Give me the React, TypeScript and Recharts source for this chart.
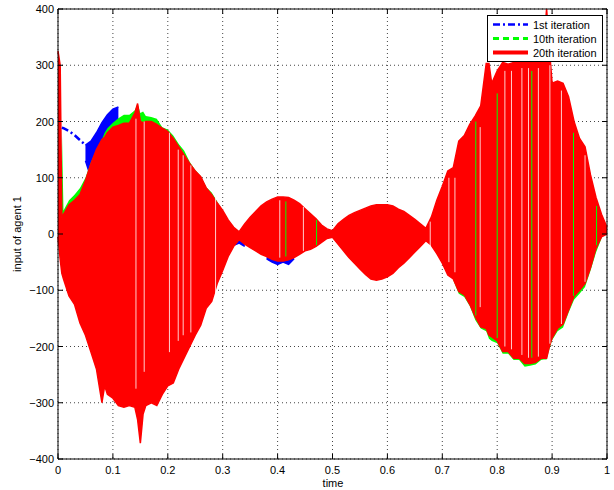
import React from 'react';
import { ComposedChart, Area, Line, XAxis, YAxis, CartesianGrid, ReferenceLine } from 'recharts';

const time = [
  0, 0.004, 0.007, 0.01, 0.02, 0.03, 0.04, 0.05, 0.06, 0.07,
  0.08, 0.085, 0.09, 0.1, 0.11, 0.12, 0.13, 0.14, 0.145, 0.15,
  0.155, 0.16, 0.17, 0.18, 0.19, 0.2, 0.21, 0.22, 0.23, 0.24,
  0.25, 0.26, 0.27, 0.28, 0.29, 0.3, 0.31, 0.32, 0.33, 0.34,
  0.35, 0.36, 0.37, 0.38, 0.39, 0.4, 0.41, 0.42, 0.43, 0.44,
  0.45, 0.46, 0.47, 0.48, 0.49, 0.5, 0.51, 0.52, 0.53, 0.54,
  0.55, 0.56, 0.57, 0.58, 0.59, 0.6, 0.61, 0.62, 0.63, 0.64,
  0.65, 0.66, 0.67, 0.68, 0.69, 0.7, 0.71, 0.72, 0.73, 0.74,
  0.75, 0.76, 0.77, 0.78, 0.785, 0.79, 0.8, 0.81, 0.82, 0.83,
  0.84, 0.85, 0.86, 0.87, 0.88, 0.885, 0.89, 0.895, 0.9, 0.91,
  0.92, 0.93, 0.94, 0.95, 0.96, 0.97, 0.98, 0.99, 1.0,
];

// 20th iteration envelope
const redHigh = [
  325, 300, 28, 35, 52, 60, 70, 95, 125, 150,
  168, 172, 180, 190, 193, 197, 197, 215, 232, 200,
  198, 200, 200, 195, 188, 182, 170, 155, 140, 125,
  112, 102, 82, 70, 55, 42, 25, 12, 4, 18,
  30, 40, 50, 57, 62, 66, 66, 65, 60, 54,
  45, 36, 27, 16, 9, 6, 18, 26, 33, 38,
  42, 46, 50, 52, 52, 52, 50, 44, 40, 33,
  26, 18, 10, 30, 60, 85, 112, 118, 165, 175,
  195, 210, 228, 303, 303, 268, 290, 305, 302, 305,
  305, 308, 310, 310, 308, 340, 400, 330, 268, 272,
  268, 244, 200, 170, 155, 105, 65, 35, 12,
];
const redLow = [
  -5, -45, -70, -80, -110, -125, -158, -180, -210, -240,
  -300, -270, -285, -292, -305, -308, -305, -308, -330, -372,
  -320, -305, -300, -305, -285, -270, -265, -240, -220, -200,
  -180, -162, -132, -120, -88, -65, -40, -22, -10, -18,
  -24, -30, -36, -40, -45, -48, -48, -46, -42, -36,
  -30, -27, -22, -15, -8, -6, -18, -30, -42, -52,
  -62, -72, -80, -82, -80, -76, -70, -60, -52, -42,
  -32, -22, -12, -20, -35, -52, -73, -80, -102, -108,
  -125, -147, -165, -168, -180, -183, -190, -209, -209, -221,
  -221, -230, -230, -228, -221, -221, -221, -200, -185, -168,
  -160, -135, -110, -100, -88, -60, -25, -5, 0,
];

// 10th iteration (visible parts only)
const greenHigh = [
  null, null, 190, 42, 60, 70, 82, 100, 128, 150,
  168, 180, 188, 198, 206, 212, 212, 220, 232, 215,
  218, 210, 208, 205, 190, 186, 175, 160, 148, 128,
  114, 103, 83, 74, 58, 42, null, null, null, null,
  null, null, null, null, null, null, null, null, null, null,
  null, null, null, null, null, null, null, null, null, null,
  null, null, null, null, null, null, null, null, null, null,
  null, null, null, null, null, null, null, 0, 0, 0,
  0, 0, 0, 0, 0, 0, 0, 0, 0, 0,
  0, 0, 0, 0, 0, 0, 0, 0, 0, 0,
  0, 0, 0, 0, 0, 0, 0, 0, null,
];
const greenLow = [
  null, null, 0, 0, 0, 0, 0, 0, 0, 0,
  0, 0, 0, 0, 0, 0, 0, 0, 0, 0,
  0, 0, 0, 0, 0, 0, 0, 0, 0, 0,
  0, 0, 0, 0, 0, 0, null, null, null, null,
  null, null, null, null, null, null, null, null, null, null,
  null, null, null, null, null, null, null, null, null, null,
  null, null, null, null, null, null, null, null, null, null,
  null, null, null, null, null, null, null, -82, -106, -112,
  -128, -153, -168, -173, -186, -190, -194, -213, -213, -224,
  -224, -236, -234, -232, -224, -223, -223, -205, -189, -173,
  -166, -140, -117, -106, -94, -65, -33, -8, null,
];

// 1st iteration (visible parts only)
const blueHigh = [
  null, null, null, null, null, null, null, 158, 165, 180,
  198, 205, 212, 222, 226, null, null, null, null, null,
  null, null, null, null, null, null, null, null, null, null,
  null, null, null, null, null, null, null, 0, 0, 0,
  null, null, null, 0, 0, 0, 0, 0, 0, null,
  null, null, null, null, null, null, null, null, null, null,
  null, null, null, null, null, null, null, null, null, null,
  null, null, null, null, null, null, null, null, null, null,
  null, null, null, null, null, null, null, null, null, null,
  null, null, null, null, null, null, null, null, null, null,
  null, null, null, null, null, null, null, null, null,
];
const blueLow = [
  null, null, null, null, null, null, null, 130, 100, 100,
  120, 140, 150, 165, 185, null, null, null, null, null,
  null, null, null, null, null, null, null, null, null, null,
  null, null, null, null, null, null, null, -20, -16, -22,
  null, null, null, -44, -50, -54, -50, -54, -44, null,
  null, null, null, null, null, null, null, null, null, null,
  null, null, null, null, null, null, null, null, null, null,
  null, null, null, null, null, null, null, null, null, null,
  null, null, null, null, null, null, null, null, null, null,
  null, null, null, null, null, null, null, null, null, null,
  null, null, null, null, null, null, null, null, null,
];
const blueTrace = [
  null, null, 189, 188, 183, 176, 167, 158, null, null,
];

// thin gaps between oscillation strokes: [time, from, to, kind]
const stripes: [number, number, number, string][] = [
  [0.142, -275, 205, 'gap'], [0.157, -245, 200, 'gap'], [0.203, -210, 180, 'gap'],
  [0.219, -190, 150, 'gap'], [0.228, -180, 140, 'gap'], [0.242, -175, 122, 'gap'],
  [0.287, -105, 65, 'gap'], [0.404, -42, 60, 'gap'], [0.415, -40, 58, 'green'],
  [0.447, -30, 48, 'gap'], [0.471, -20, 25, 'green'], [0.678, -30, 22, 'gap'],
  [0.712, -50, 100, 'gap'], [0.723, -68, 100, 'gap'], [0.761, -145, 200, 'green'],
  [0.769, -130, 190, 'gap'], [0.8, -185, 250, 'green'], [0.814, -200, 290, 'gap'],
  [0.826, -205, 290, 'gap'], [0.845, -215, 295, 'gap'], [0.857, -220, 295, 'gap'],
  [0.863, -220, 290, 'green'], [0.875, -218, 295, 'gap'], [0.896, -195, 300, 'gap'],
  [0.917, -160, 255, 'gap'], [0.939, -110, 180, 'green'], [0.96, -85, 140, 'gap'],
  [0.981, -20, 50, 'green'],
];

const xTicks = [0, 0.1, 0.2, 0.3, 0.4, 0.5, 0.6, 0.7, 0.8, 0.9, 1];
const xTickLabels = ['0', '0.1', '0.2', '0.3', '0.4', '0.5', '0.6', '0.7', '0.8', '0.9', '1'];
const yTicks = [-400, -300, -200, -100, 0, 100, 200, 300, 400];
const yTickLabels = ['\u2212400', '\u2212300', '\u2212200', '\u2212100', '0', '100', '200', '300', '400'];

const legendItems = [
  { name: '1st iteration', color: '#0000FF', dash: '7 3 2 3', width: 2.5 },
  { name: '10th iteration', color: '#00FF00', dash: '6 4', width: 3 },
  { name: '20th iteration', color: '#FF0000', dash: undefined, width: 4 },
];

const data = time.map((t, i) => ({
  t,
  red: [redLow[i], redHigh[i]],
  green: greenHigh[i] == null ? null : [greenLow[i], greenHigh[i]],
  blue: blueHigh[i] == null ? null : [blueLow[i], blueHigh[i]],
  trace: i < blueTrace.length ? blueTrace[i] : null,
}));

const FONT = '"Liberation Sans", Arial, Helvetica, sans-serif';
const PLOT_L = 58, PLOT_R = 607, PLOT_T = 9, PLOT_B = 459;

const XTick = (props: any) => {
  const { x, index } = props;
  return (
    <g>
      <line x1={x} x2={x} y1={PLOT_B} y2={PLOT_B - 5} stroke="#000" strokeWidth={1} />
      <line x1={x} x2={x} y1={PLOT_T} y2={PLOT_T + 5} stroke="#000" strokeWidth={1} />
      <text x={x} y={PLOT_B + 15} textAnchor="middle" fontSize={11} fontFamily={FONT} fill="#000">
        {xTickLabels[index]}
      </text>
    </g>
  );
};

const YTick = (props: any) => {
  const { y, index } = props;
  return (
    <g>
      <line x1={PLOT_L} x2={PLOT_L + 5} y1={y} y2={y} stroke="#000" strokeWidth={1} />
      <line x1={PLOT_R} x2={PLOT_R - 5} y1={y} y2={y} stroke="#000" strokeWidth={1} />
      <text x={PLOT_L - 4} y={y + 4} textAnchor="end" fontSize={11} fontFamily={FONT} fill="#000">
        {yTickLabels[index]}
      </text>
    </g>
  );
};

const XTitle = () => (
  <text x={333} y={487} textAnchor="middle" fontSize={11} fontFamily={FONT} fill="#000">time</text>
);
const YTitle = () => (
  <text x={21} y={234} transform="rotate(-90 21 234)" textAnchor="middle" fontSize={11}
    fontFamily={FONT} fill="#000">input of agent 1</text>
);

const Legend = () => (
  <svg width={118} height={50} style={{ position: 'absolute', left: 486, top: 14 }}>
    <rect x={1.5} y={1.5} width={115} height={46} fill="#fff" stroke="#000" strokeWidth={1} />
    {legendItems.map((it, i) => (
      <g key={it.name}>
        <line x1={7} x2={42} y1={10.5 + i * 14} y2={10.5 + i * 14} stroke={it.color}
          strokeWidth={it.width} strokeDasharray={it.dash} />
        <text x={47} y={14.5 + i * 14} fontSize={11} fontFamily={FONT} fill="#000">{it.name}</text>
      </g>
    ))}
  </svg>
);

export default function App() {
  return (
    <div style={{ position: 'absolute', left: 0, top: 0, width: 614, height: 490, background: '#fff' }}>
      <ComposedChart width={614} height={490} data={data}
        margin={{ top: PLOT_T, right: 614 - PLOT_R, left: 0, bottom: 0 }}>
        <CartesianGrid stroke="#444" strokeDasharray="1 3" strokeWidth={1}
          horizontalValues={yTicks} verticalValues={xTicks} />
        <XAxis dataKey="t" type="number" domain={[0, 1]} ticks={xTicks} height={490 - PLOT_B}
          axisLine={{ stroke: '#000' }} tickLine={false} tick={<XTick />} interval={0}
          label={XTitle} />
        <YAxis type="number" domain={[-400, 400]} ticks={yTicks} width={PLOT_L}
          axisLine={{ stroke: '#000' }} tickLine={false} tick={<YTick />} interval={0} allowDataOverflow
          label={YTitle} />
        <Area dataKey="blue" type="linear" stroke="#0000FF" strokeWidth={1.5} fill="#0000FF" fillOpacity={1}
          isAnimationActive={false} dot={false} activeDot={false} />
        <Line dataKey="trace" type="linear" stroke="#0000FF" strokeWidth={2.5} strokeDasharray="7 3 2 3"
          dot={false} activeDot={false} isAnimationActive={false} />
        <Area dataKey="green" type="linear" stroke="none" strokeWidth={0} fill="#00FF00" fillOpacity={1}
          isAnimationActive={false} dot={false} activeDot={false} />
        <Area dataKey="red" type="linear" stroke="#FF0000" strokeWidth={1.5} fill="#FF0000" fillOpacity={1}
          isAnimationActive={false} dot={false} activeDot={false} />
        {stripes.map(([t, lo, hi, kind], i) => (
          <ReferenceLine key={i} segment={[{ x: t, y: lo }, { x: t, y: hi }]}
            stroke={kind === 'green' ? '#00FF00' : '#FFFFFF'} strokeOpacity={kind === 'green' ? 1 : 0.8}
            strokeWidth={1} />
        ))}
        <ReferenceLine x={1} stroke="#000" strokeWidth={1} />
        <ReferenceLine y={400} stroke="#000" strokeWidth={1} />
      </ComposedChart>
      <Legend />
    </div>
  );
}
